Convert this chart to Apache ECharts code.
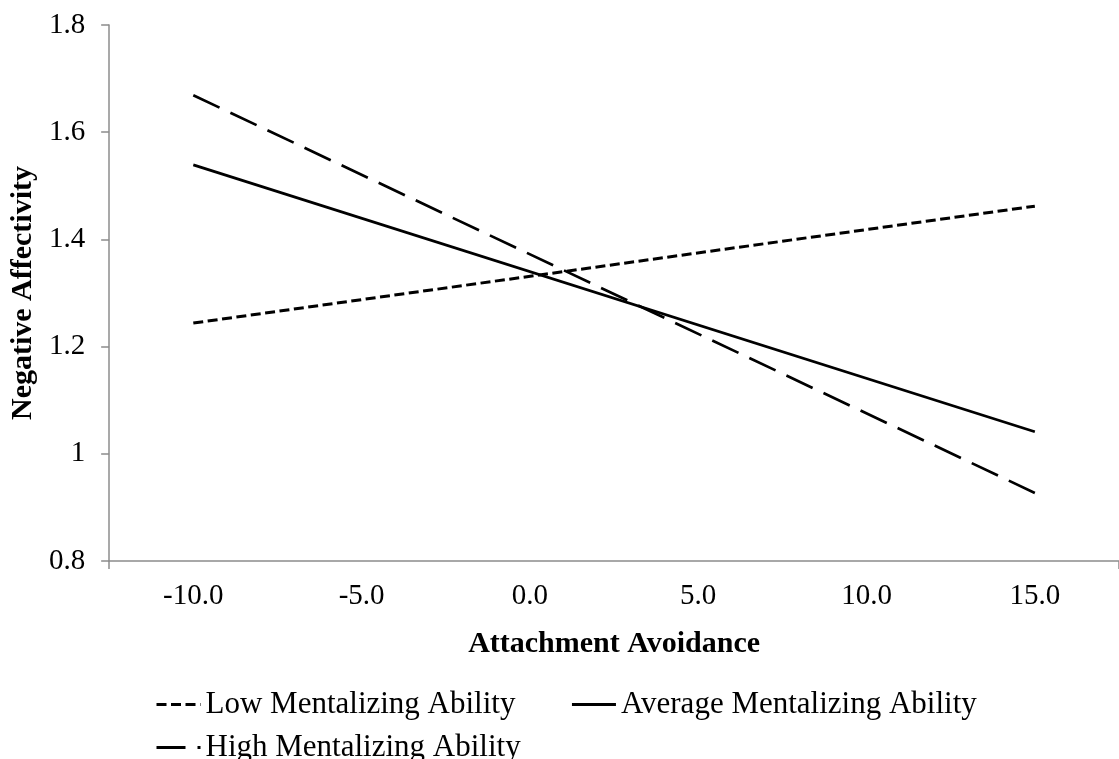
<!DOCTYPE html>
<html>
<head>
<meta charset="utf-8">
<script src="https://cdn.jsdelivr.net/npm/echarts@6/dist/echarts.min.js"></script>
<style>html,body{margin:0;padding:0;background:#fff;}#c{width:1119px;height:759px;}</style>
</head>
<body>
<div id="c"></div>
<script>
const categories = ['-10.0', '-5.0', '0.0', '5.0', '10.0', '15.0'];
const lowMentalizing = [1.244, null, null, null, null, 1.462];
const averageMentalizing = [1.539, null, null, null, null, 1.041];
const highMentalizing = [1.669, null, null, null, null, 0.927];
const yTicks = { min: 0.8, max: 1.8, interval: 0.2 };

const FONT = '"Liberation Serif", "Times New Roman", serif';
const chart = echarts.init(document.getElementById('c'));
chart.setOption({
  animation: false,
  backgroundColor: '#fff',
  textStyle: { fontFamily: FONT, color: '#000' },
  grid: { left: 109, top: 25, width: 1022, height: 536 },
  xAxis: {
    type: 'category',
    data: categories,
    boundaryGap: true,
    name: 'Attachment Avoidance',
    nameLocation: 'middle',
    nameGap: 68,
    nameTextStyle: { fontFamily: FONT, fontWeight: 'bold', fontSize: 30, color: '#000' },
    axisLine: { lineStyle: { color: '#8c8c8c', width: 1.5 } },
    axisTick: { show: true, alignWithLabel: false, length: 8, interval: function (i) { return i === 5; }, lineStyle: { color: '#8c8c8c', width: 1.5 } },
    axisLabel: { fontFamily: FONT, fontSize: 29, color: '#000', margin: 21, interval: 0 },
    splitLine: { show: false }
  },
  yAxis: {
    type: 'value',
    min: yTicks.min,
    max: yTicks.max,
    interval: yTicks.interval,
    name: 'Negative Affectivity',
    nameLocation: 'middle',
    nameGap: 62,
    nameRotate: 90,
    nameTextStyle: { fontFamily: FONT, fontWeight: 'bold', fontSize: 30, color: '#000' },
    axisLine: { show: true, lineStyle: { color: '#8c8c8c', width: 1.5 } },
    axisTick: { show: true, length: 8, lineStyle: { color: '#8c8c8c', width: 1.5 } },
    axisLabel: { fontFamily: FONT, fontSize: 29, color: '#000', margin: 24 },
    splitLine: { show: false }
  },
  legend: [
    {
      data: ['Low Mentalizing Ability', 'Average Mentalizing Ability'],
      left: 150, top: 684,
      itemWidth: 44, itemHeight: 14, itemGap: 55,
      itemStyle: { opacity: 0 },
      lineStyle: { width: 3 },
      textStyle: { fontFamily: FONT, fontSize: 31, color: '#000' }
    },
    {
      data: ['High Mentalizing Ability'],
      left: 150, top: 727,
      itemWidth: 44, itemHeight: 14,
      itemStyle: { opacity: 0 },
      lineStyle: { width: 3 },
      textStyle: { fontFamily: FONT, fontSize: 31, color: '#000' }
    }
  ],
  series: [
    {
      name: 'Low Mentalizing Ability', type: 'line', data: lowMentalizing,
      connectNulls: true, symbol: 'none',
      lineStyle: { color: '#000', width: 3, type: [10, 4.5] },
      itemStyle: { color: '#000' }
    },
    {
      name: 'Average Mentalizing Ability', type: 'line', data: averageMentalizing,
      connectNulls: true, symbol: 'none',
      lineStyle: { color: '#000', width: 2.7, type: 'solid' },
      itemStyle: { color: '#000' }
    },
    {
      name: 'High Mentalizing Ability', type: 'line', data: highMentalizing,
      connectNulls: true, symbol: 'none',
      lineStyle: { color: '#000', width: 2.7, type: [29, 12] },
      itemStyle: { color: '#000' }
    }
  ]
});
</script>
</body>
</html>
